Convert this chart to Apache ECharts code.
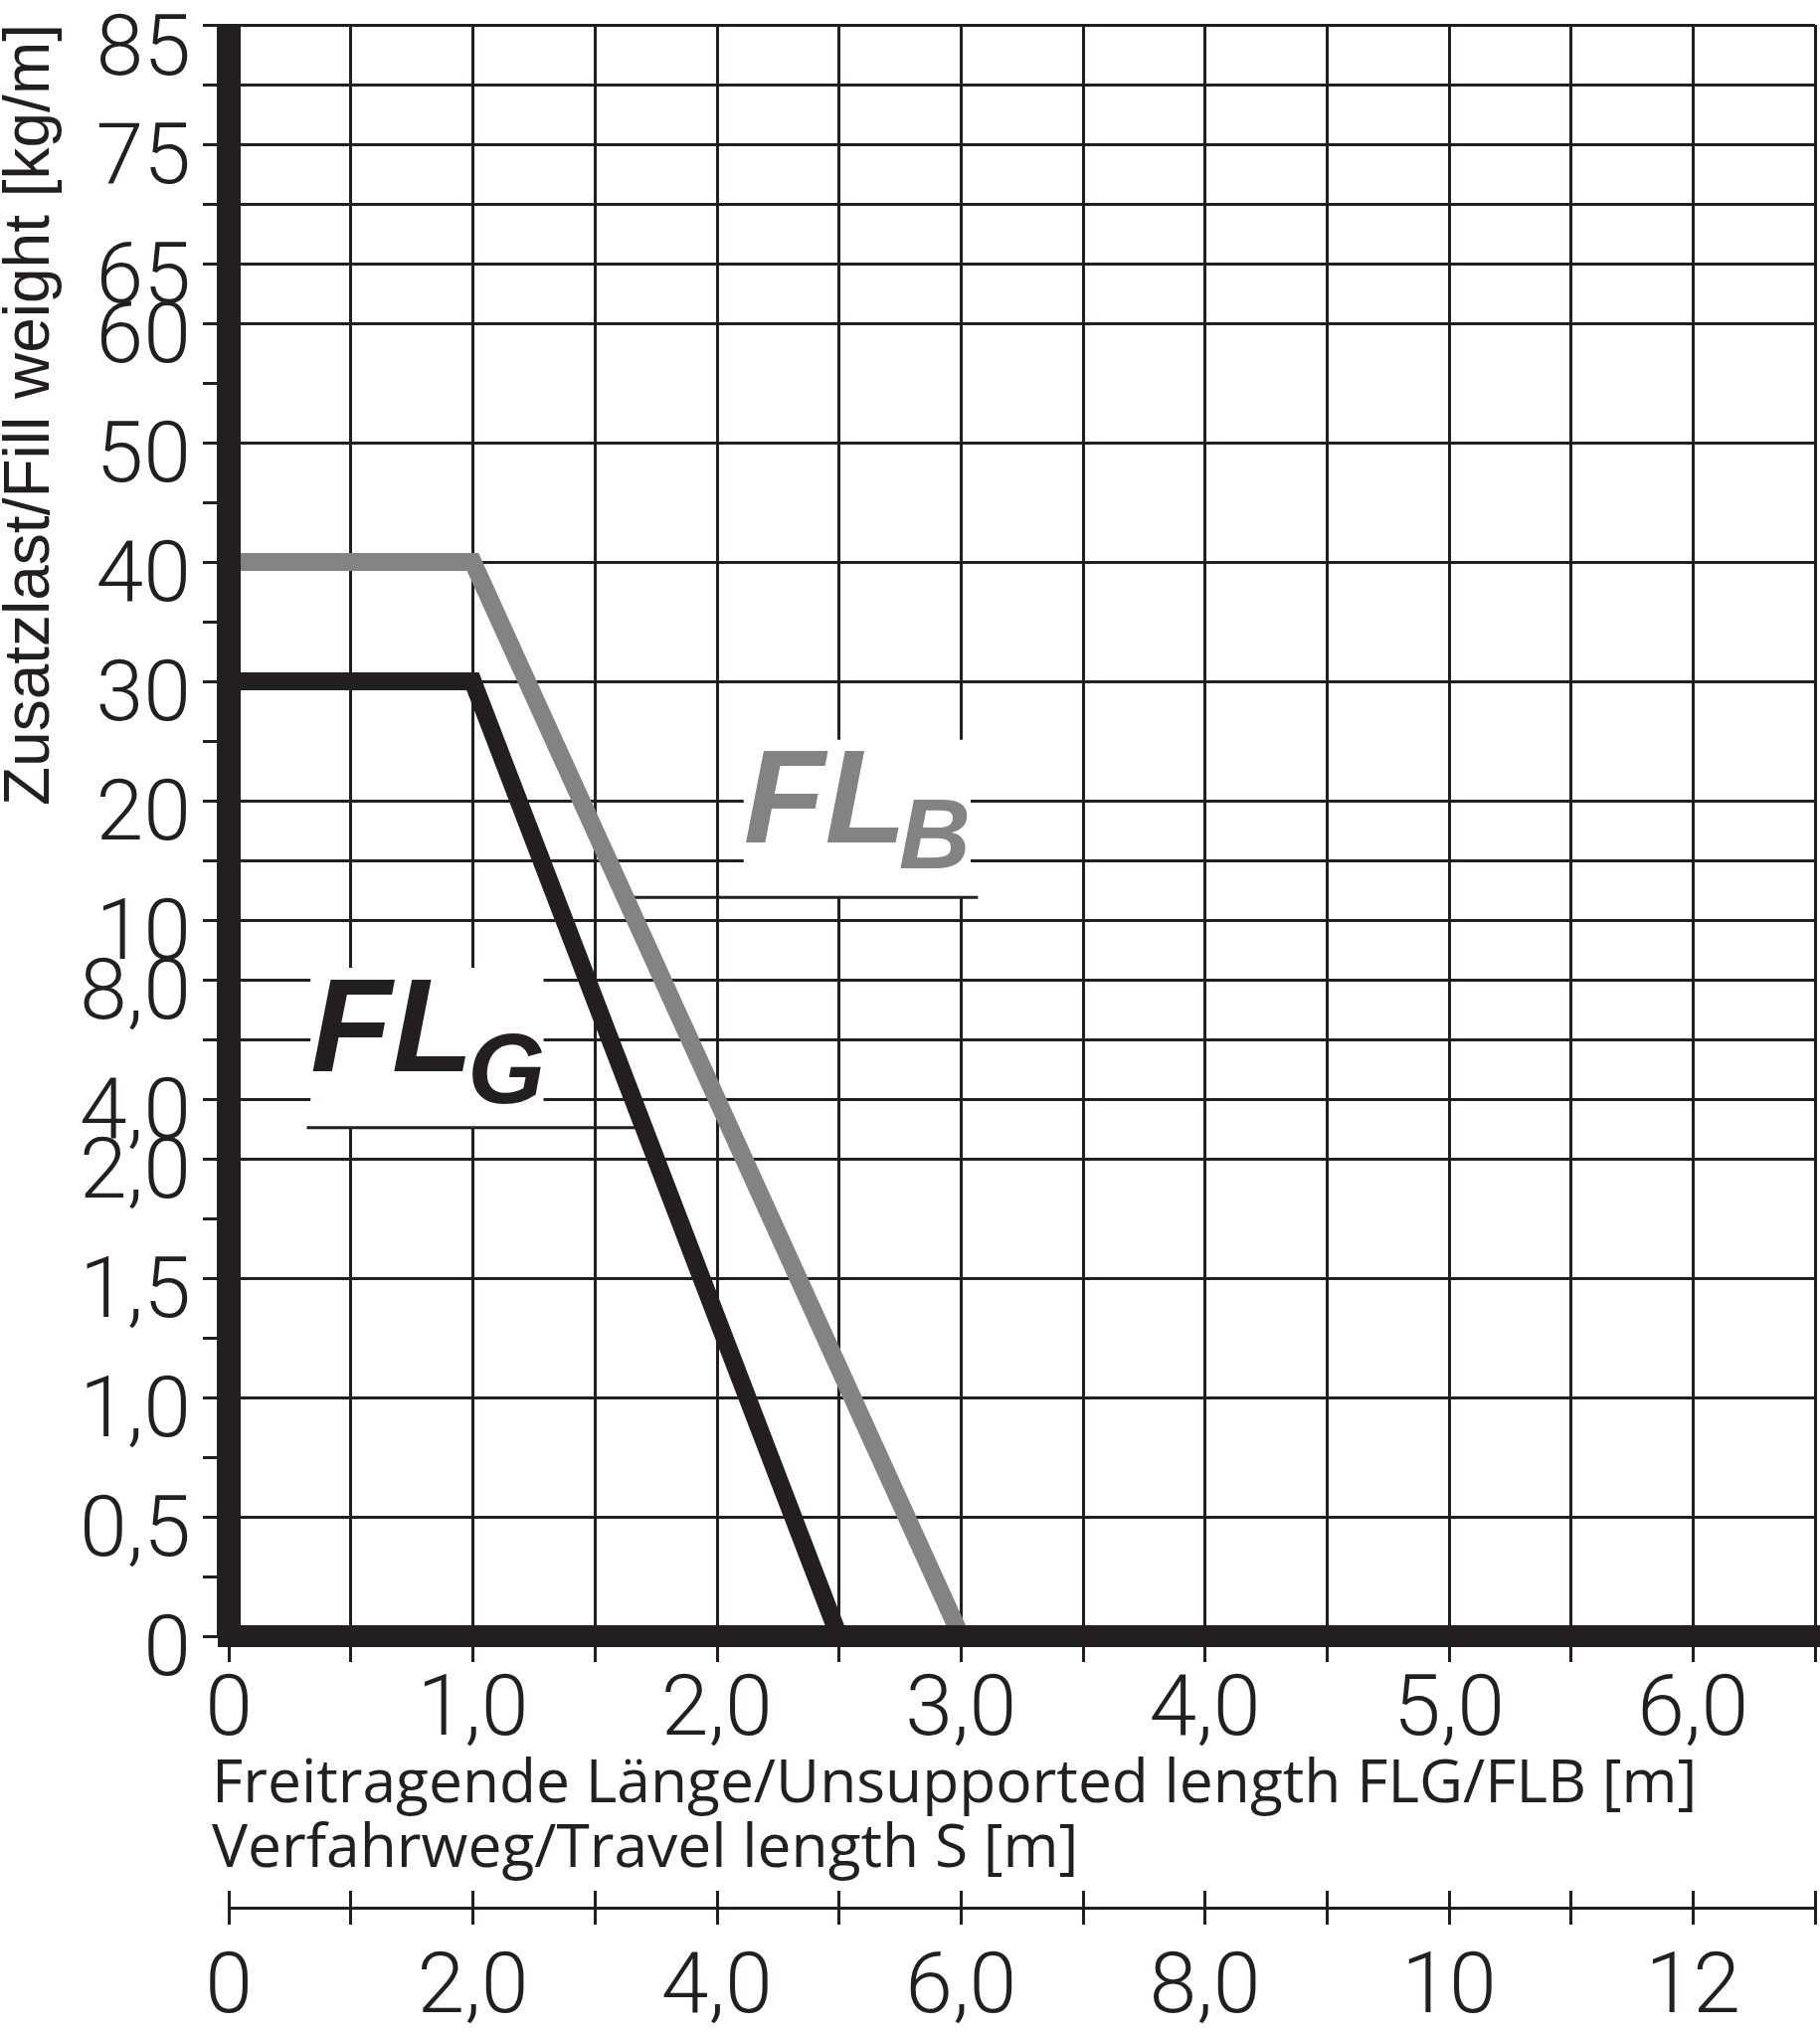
<!DOCTYPE html>
<html>
<head>
<meta charset="utf-8">
<script src="https://cdn.jsdelivr.net/npm/echarts@6/dist/echarts.min.js"></script>
<style>
html,body{margin:0;padding:0;background:#fff;}
#main{width:1830px;height:2048px;}
</style>
</head>
<body>
<div id="main"></div>
<script>
// ---- data ----
const yTickValues = [0, 0.25, 0.5, 0.75, 1.0, 1.25, 1.5, 1.75, 2.0, 4.0, 6.0, 8.0, 10, 15, 20, 25, 30, 35, 40, 45, 50, 55, 60, 65, 70, 75, 80, 85];
const yTickLabels = ['0', '', '0,5', '', '1,0', '', '1,5', '', '2,0', '4,0', '', '8,0', '10', '', '20', '', '30', '', '40', '', '50', '', '60', '65', '', '75', '', '85'];
const yTickOnly = [0.25, 0.75, 1.25, 1.75, 25, 35, 45, 55];

const flgX = [0, 1.0, 2.5];
const flgY = [30, 30, 0];
const flbX = [0, 1.0, 3.0];
const flbY = [40, 40, 0];

const xLengthMax = 6.5;   // FLG/FLB [m]
const xTravelMax = 13;    // S [m]

// annotation anchors (data units: x in m, y in axis step index)
const noteFLB = { x0: 2.11, x1: 3.04, yTop: 15.02, yBottom: 12.38, leadX0: 1.62, leadX1: 3.07, main: 'FL', sub: 'B' };
const noteFLG = { x0: 0.335, x1: 1.29, yTop: 11.2, yBottom: 8.52, leadX0: 0.32, leadX1: 1.70, main: 'FL', sub: 'G' };

// ---- helpers ----
const C = '#231f20';
const GREY = '#838383';
const idxOf = v => yTickValues.indexOf(v);
const pairs = (xs, ys) => xs.map((x, i) => [x, idxOf(ys[i])]);
const dec = v => v.toFixed(1).replace('.', ',');
const fmtX = v => v === 0 ? '0' : (Math.abs(v - Math.round(v)) < 1e-9 ? dec(v) : '');
const fmtS = v => (Math.round(v) % 2 !== 0) ? '' : (v === 0 ? '0' : (v >= 10 ? String(Math.round(v)) : dec(v)));
const LABEL_FONT = 'Roboto';
const LABEL_WEIGHT = 300;

const chart = echarts.init(document.getElementById('main'), null, { renderer: 'canvas' });

const option = {
  animation: false,
  backgroundColor: '#ffffff',
  title: {
    text: 'Freitragende Länge/Unsupported length FLG/FLB [m]\nVerfahrweg/Travel length S [m]',
    left: 213, top: 1762, padding: 0,
    textStyle: { fontFamily: 'Open Sans', fontSize: 60.5, fontWeight: 'normal', color: C, lineHeight: 65 }
  },
  grid: { left: 230, right: 5, top: 25, bottom: 403, containLabel: false, outerBoundsMode: 'none' },
  xAxis: [
    {
      type: 'value', min: 0, max: xLengthMax, interval: 0.5, position: 'bottom', z: 0,
      axisLine: { show: false },
      axisTick: { show: true, length: 26, lineStyle: { color: C, width: 3 } },
      axisLabel: { formatter: fmtX, margin: 34, fontSize: 86, fontWeight: LABEL_WEIGHT, fontFamily: LABEL_FONT, color: C },
      splitLine: { show: true, lineStyle: { color: C, width: 3 } }
    },
    {
      type: 'value', min: 0, max: xLengthMax, position: 'bottom', z: 3,
      axisLine: { show: true, lineStyle: { color: C, width: 22, cap: 'square' } },
      axisTick: { show: false }, axisLabel: { show: false }, splitLine: { show: false }
    },
    {
      type: 'value', min: 0, max: xTravelMax, interval: 1, position: 'bottom', offset: 273,
      axisLine: { show: true, lineStyle: { color: C, width: 3, cap: 'butt' } },
      axisTick: { show: true, length: 17, lineStyle: { color: C, width: 3 } },
      axisLabel: { formatter: fmtS, margin: 40, fontSize: 86, fontWeight: LABEL_WEIGHT, fontFamily: LABEL_FONT, color: C },
      splitLine: { show: false }
    },
    {
      type: 'value', min: 0, max: xTravelMax, interval: 1, position: 'bottom', offset: 273,
      axisLine: { show: false },
      axisTick: { show: true, inside: true, length: 17, lineStyle: { color: C, width: 3 } },
      axisLabel: { show: false }, splitLine: { show: false }
    }
  ],
  yAxis: [
    {
      type: 'category', data: yTickValues.map(String), boundaryGap: false, position: 'left', z: 0,
      axisLine: { show: false },
      axisTick: { show: true, interval: 0, length: 26, lineStyle: { color: C, width: 3 } },
      axisLabel: {
        interval: 0, margin: 38, color: C, fontSize: 86, fontWeight: LABEL_WEIGHT, fontFamily: LABEL_FONT,
        formatter: (v, i) => {
          const t = yTickLabels[i];
          if (!t) return '';
          return t === '85' ? '{t|' + t + '}' : '{s|' + t + '}';
        },
        rich: {
          s: { fontSize: 86, fontWeight: LABEL_WEIGHT, fontFamily: LABEL_FONT, color: C, padding: [34, 0, 0, 0] },
          t: { fontSize: 86, fontWeight: LABEL_WEIGHT, fontFamily: LABEL_FONT, color: C, padding: [56, 0, 0, 0] }
        }
      },
      splitLine: {
        show: true,
        interval: (i) => yTickOnly.indexOf(yTickValues[i]) < 0,
        lineStyle: { color: C, width: 3 }
      }
    },
    {
      type: 'value', min: 0, max: yTickValues.length - 1, position: 'left', z: 3,
      axisLine: { show: true, lineStyle: { color: C, width: 24, cap: 'butt' } },
      axisTick: { show: false }, axisLabel: { show: false }, splitLine: { show: false }
    }
  ],
  series: [
    {
      name: 'FLB', type: 'line', xAxisIndex: 0, yAxisIndex: 1, symbol: 'none', z: 2,
      data: pairs(flbX, flbY),
      lineStyle: { color: GREY, width: 18, join: 'miter', cap: 'butt' }
    },
    {
      name: 'FLG', type: 'line', xAxisIndex: 0, yAxisIndex: 1, symbol: 'none', z: 2,
      data: pairs(flgX, flgY),
      lineStyle: { color: C, width: 18, join: 'miter', cap: 'butt' }
    }
  ]
};

chart.setOption(option);

function noteGraphics(n, color, mainDy, subDx, subDy) {
  const p0 = chart.convertToPixel({ xAxisIndex: 0, yAxisIndex: 1 }, [n.x0, n.yTop]);
  const p1 = chart.convertToPixel({ xAxisIndex: 0, yAxisIndex: 1 }, [n.x1, n.yBottom]);
  const l0 = chart.convertToPixel({ xAxisIndex: 0, yAxisIndex: 1 }, [n.leadX0, n.yBottom]);
  const l1 = chart.convertToPixel({ xAxisIndex: 0, yAxisIndex: 1 }, [n.leadX1, n.yBottom]);
  return [
    { type: 'rect', z: 1, shape: { x: p0[0], y: p0[1], width: p1[0] - p0[0], height: p1[1] - p0[1] }, style: { fill: '#ffffff' } },
    { type: 'line', z: 1, shape: { x1: l0[0], y1: l0[1], x2: l1[0], y2: l1[1] }, style: { stroke: C, lineWidth: 3 } },
    { type: 'text', z: 1, x: p0[0], y: p0[1] + mainDy,
      style: { text: n.main, fill: color, font: 'italic bold 134px "Liberation Sans"', textAlign: 'left', align: 'left', textVerticalAlign: 'middle', verticalAlign: 'middle' } },
    { type: 'text', z: 1, x: p0[0] + subDx, y: p0[1] + subDy,
      style: { text: n.sub, fill: color, font: 'italic bold 100px "Liberation Sans"', textAlign: 'left', align: 'left', textVerticalAlign: 'middle', verticalAlign: 'middle' } }
  ];
}

chart.setOption({
  graphic: [
    { type: 'text', z: 1, x: 31, y: 417, rotation: Math.PI / 2,
      style: { text: 'Zusatzlast/Fill weight [kg/m]', fill: C, font: '64px "Liberation Sans"', textAlign: 'center', align: 'center', textVerticalAlign: 'middle', verticalAlign: 'middle' } }
  ].concat(noteGraphics(noteFLB, GREY, 66, 156, 102), noteGraphics(noteFLG, C, 67, 158, 108))
});
</script>
</body>
</html>
